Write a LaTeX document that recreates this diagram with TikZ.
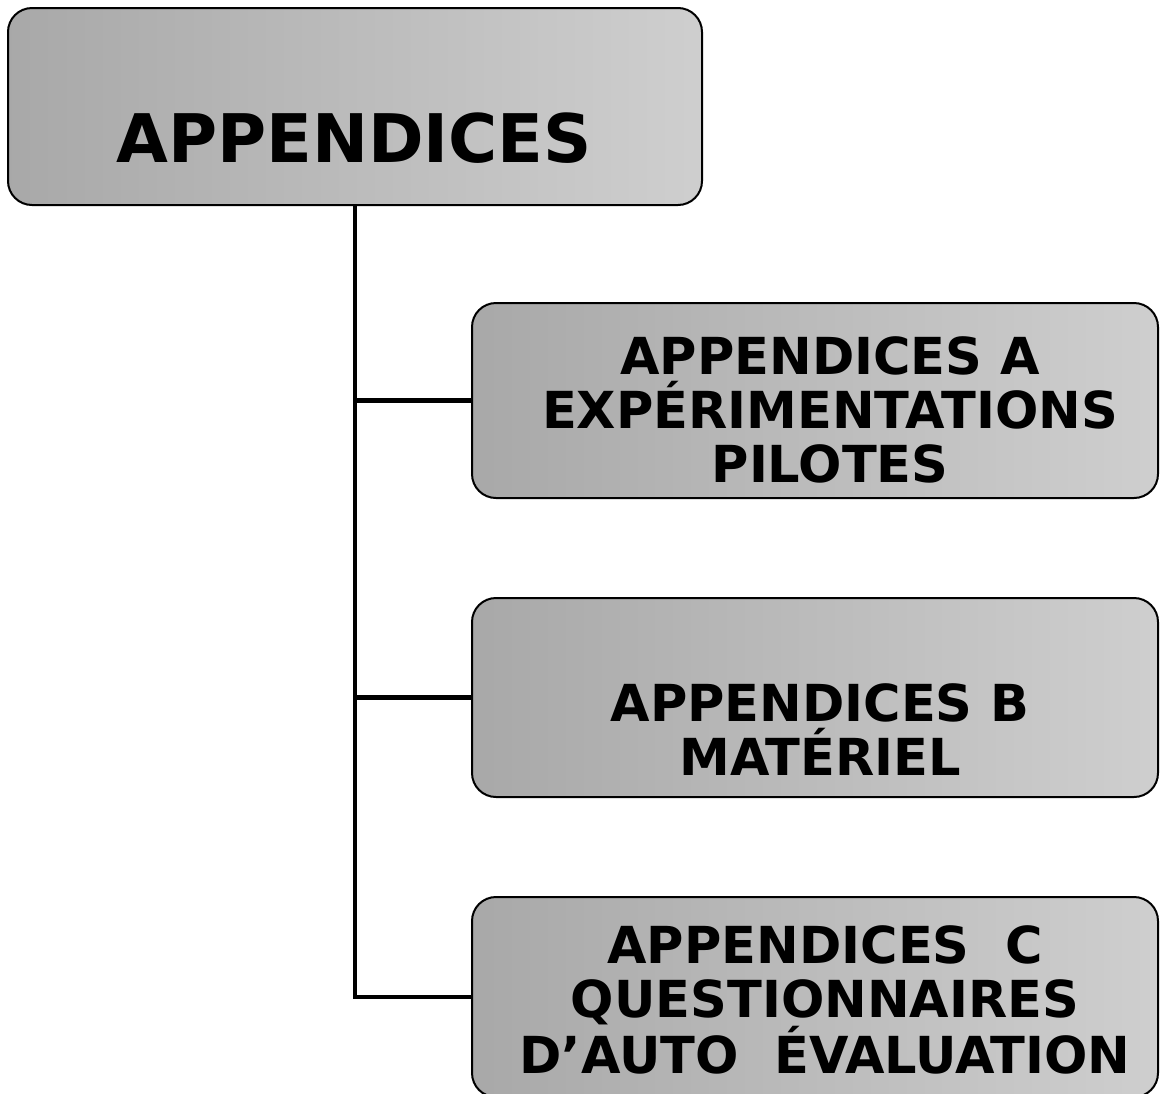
\documentclass[tikz,border=0pt]{standalone}
\usepackage{fontspec}
\setmainfont{DejaVu Sans}
\begin{document}
\begin{tikzpicture}[x=1pt,y=-1pt,
  box/.style={draw=black, line width=2pt, rounded corners=24pt, left color=gray!68, right color=gray!38, inner sep=0pt},
  lbl/.style={font=\bfseries\fontsize{51}{54}\selectfont, align=center, text=black, inner sep=0pt},
  toplbl/.style={font=\bfseries\fontsize{67}{70}\selectfont, text=black, inner sep=0pt},
  conn/.style={line width=4.5pt}]
\useasboundingbox (0,0) rectangle (1162,1093);
\clip (0,0) rectangle (1162,1093);
% boxes
\node[box, minimum width=694pt, minimum height=197pt] (top) at (355,106.5) {};
\node[box, minimum width=686pt, minimum height=195pt] (boxA) at (815,400.5) {};
\node[box, minimum width=686pt, minimum height=199pt] (boxB) at (815,697.5) {};
\node[box, minimum width=686pt, minimum height=200pt] (boxC) at (815,997) {};
% labels
\node[toplbl] (tA) at (354,138) {APPENDICES};
\node[lbl] (lA) at (830,410) {APPENDICES A\\EXPÉRIMENTATIONS\\PILOTES};
\node[lbl] (lB) at (820,730) {APPENDICES B\\MATÉRIEL};
\node[lbl] (lC) at (825,1000) {APPENDICES\ \ C\\QUESTIONNAIRES\\D’AUTO\ \ ÉVALUATION};
% connectors
\draw[conn] (top.south) |- (boxA.west);
\draw[conn] (top.south) |- (boxB.west);
\draw[conn] (top.south) |- (boxC.west);
\end{tikzpicture}
\end{document}
